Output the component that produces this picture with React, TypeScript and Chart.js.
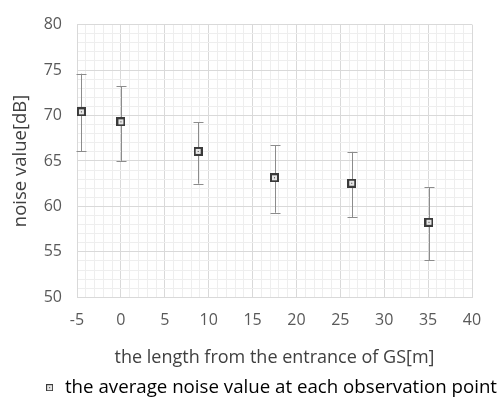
import React, { useEffect, useRef } from "react";
import { Chart, registerables } from "chart.js";

Chart.register(...registerables);

const xValues = [-4.5, 0, 8.8, 17.5, 26.3, 35.1];
const meanValues = [70.4, 69.3, 66.05, 63.15, 62.55, 58.25];
const upperValues = [74.6, 73.2, 69.25, 66.7, 66.0, 62.1];
const lowerValues = [66.05, 65.0, 62.5, 59.3, 58.8, 54.05];
const xTickLabels = ["-5", "0", "5", "10", "15", "20", "25", "30", "35", "40"];
const yTickLabels = ["50", "55", "60", "65", "70", "75", "80"];
const seriesName = "the average noise value at each observation point";
const xTitle = "the length from the entrance of GS[m]";
const yTitle = "noise value[dB]";

function makeMarker(size: number, border: number) {
  const c = document.createElement("canvas");
  c.width = size;
  c.height = size;
  const ctx = c.getContext("2d")!;
  ctx.fillStyle = "#3a3a3a";
  ctx.fillRect(0, 0, size, size);
  ctx.fillStyle = "#e6e6e6";
  ctx.fillRect(border, border, size - 2 * border, size - 2 * border);
  ctx.fillStyle = "#3a3a3a";
  const d = size % 2 === 0 ? 2 : 1;
  const o = (size - d) / 2;
  ctx.fillRect(o, o, d, d);
  return c;
}

const errorBars = {
  id: "errorBars",
  beforeDatasetsDraw(chart: any) {
    const { ctx, scales } = chart;
    const xs = scales.x;
    const ys = scales.y;
    ctx.save();
    ctx.strokeStyle = "#8c8c8c";
    ctx.lineWidth = 1;
    for (let i = 0; i < xValues.length; i++) {
      const px = Math.round(xs.getPixelForValue(xValues[i])) + 0.5;
      const pt = ys.getPixelForValue(upperValues[i]);
      const pb = ys.getPixelForValue(lowerValues[i]);
      ctx.beginPath();
      ctx.moveTo(px, pt);
      ctx.lineTo(px, pb);
      ctx.moveTo(px - 5, Math.round(pt) + 0.5);
      ctx.lineTo(px + 5, Math.round(pt) + 0.5);
      ctx.moveTo(px - 5, Math.round(pb) + 0.5);
      ctx.lineTo(px + 5, Math.round(pb) + 0.5);
      ctx.stroke();
    }
    ctx.restore();
  },
};

export default function App() {
  const ref = useRef<HTMLCanvasElement>(null);
  useEffect(() => {
    document.body.style.margin = "0";
    const marker = makeMarker(9, 2);
    const legendMarker = makeMarker(7, 1);
    const font = "'Open Sans', sans-serif";
    const chart = new Chart(ref.current!, {
      type: "scatter",
      data: {
        datasets: [
          {
            label: seriesName,
            data: xValues.map((x, i) => ({ x, y: meanValues[i] })),
            pointStyle: marker as any,
            pointRadius: 5,
            showLine: false,
          },
        ],
      },
      options: {
        animation: false,
        responsive: false,
        devicePixelRatio: 1,
        layout: { padding: { top: 17, right: -7, left: 0, bottom: 2 } },
        plugins: {
          tooltip: { enabled: false },
          legend: {
            position: "bottom",
            align: "end",
            labels: {
              usePointStyle: true,
              pointStyleWidth: 12,
              color: "#404040",
              font: { family: font, size: 18.7 },
              padding: 10,
              generateLabels: () => [
                {
                  text: seriesName,
                  pointStyle: legendMarker as any,
                  fillStyle: "#e6e6e6",
                  strokeStyle: "#3a3a3a",
                  lineWidth: 0,
                  hidden: false,
                  datasetIndex: 0,
                } as any,
              ],
            },
          },
        },
        scales: {
          x: {
            type: "linear",
            min: -5,
            max: 40,
            afterFit: (s: any) => {
              s.height = 71;
            },
            ticks: {
              stepSize: 1,
              autoSkip: false,
              maxRotation: 0,
              color: "#595959",
              font: { family: font, size: 16 },
              padding: 14,
              callback: (v: any) => {
                const s = String(v);
                return xTickLabels.includes(s) ? s : "";
              },
            },
            grid: {
              drawTicks: false,
              color: (c: any) => (c.tick && c.tick.value % 5 === 0 ? "#d9d9d9" : "#eeeeee"),
            },
            border: { display: true, color: "#d9d9d9" },
            title: {
              display: true,
              text: xTitle,
              color: "#404040",
              font: { family: font, size: 18 },
              padding: { top: 0, bottom: 0 },
            },
          },
          y: {
            type: "linear",
            min: 50,
            max: 80,
            afterFit: (s: any) => {
              s.width = 77;
            },
            ticks: {
              stepSize: 1,
              autoSkip: false,
              color: "#595959",
              font: { family: font, size: 16 },
              padding: 15,
              callback: (v: any) => {
                const s = String(v);
                return yTickLabels.includes(s) ? s : "";
              },
            },
            grid: {
              drawTicks: false,
              color: (c: any) => (c.tick && c.tick.value % 5 === 0 ? "#d9d9d9" : "#eeeeee"),
            },
            border: { display: true, color: "#d9d9d9" },
            title: {
              display: true,
              text: yTitle,
              color: "#404040",
              font: { family: font, size: 18.5 },
              padding: { top: 10, bottom: 0 },
            },
          },
          yRight: {
            type: "linear",
            position: "right",
            min: 50,
            max: 80,
            afterFit: (s: any) => {
              s.width = 35;
            },
            ticks: { display: false },
            grid: { display: false, drawTicks: false },
            border: { display: false },
          },
        },
      },
      plugins: [errorBars],
    });
    return () => chart.destroy();
  }, []);
  return (
    <div style={{ position: "absolute", left: 0, top: 0, width: 500, height: 409, background: "#fff" }}>
      <canvas ref={ref} width={500} height={409} style={{ width: 500, height: 409 }} />
    </div>
  );
}
